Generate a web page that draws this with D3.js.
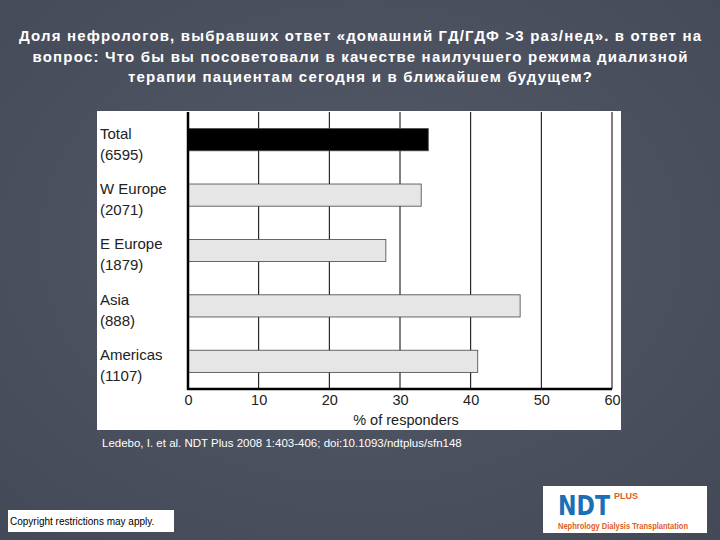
<!DOCTYPE html>
<html><head><meta charset="utf-8">
<script src="https://cdn.jsdelivr.net/npm/d3@7"></script>
<style>
body{margin:0;background:#4b505f;}
svg{display:block;}
</style></head>
<body>
<svg id="chart" width="720" height="540"></svg>
<script>
const regions = ["Total", "W Europe", "E Europe", "Asia", "Americas"]
const counts = ["(6595)", "(2071)", "(1879)", "(888)", "(1107)"]
const values = [34, 33, 28, 47, 41]
const ticks = [0, 10, 20, 30, 40, 50, 60]

const svg = d3.select("#chart")

const bg = svg.append("defs").append("radialGradient").attr("id", "bg").attr("cx", "50%").attr("cy", "45%").attr("r", "75%")
bg.append("stop").attr("offset", "0%").attr("stop-color", "#555a69")
bg.append("stop").attr("offset", "100%").attr("stop-color", "#444957")
svg.append("rect").attr("width", 720).attr("height", 540).attr("fill", "url(#bg)")

const title = [
    "Доля нефрологов, выбравших ответ «домашний ГД/ГДФ >3 раз/нед». в ответ на",
    "вопрос: Что бы вы посоветовали в качестве наилучшего режима диализной",
    "терапии пациентам сегодня и в ближайшем будущем?"
]
const titleLen = [682, 655, 464]
svg.append("g").selectAll("text").data(title).enter().append("text")
    .attr("x", 360).attr("y", (d, i) => 41 + i * 20.5)
    .attr("text-anchor", "middle").attr("fill", "#fff")
    .attr("font-family", "Liberation Sans, Arial, sans-serif").attr("font-size", 15).attr("font-weight", "bold")
    .attr("textLength", (d, i) => titleLen[i]).attr("lengthAdjust", "spacing")
    .text(d => d)

// white panel
svg.append("rect").attr("x", 97).attr("y", 111).attr("width", 524).attr("height", 319).attr("fill", "#fff")

const x = d3.scaleLinear().domain([0, 60]).range([188, 612])
const y = d3.scaleBand().domain(regions).range([112, 389]).paddingInner(0.6).paddingOuter(0.3)

const g = svg.append("g").attr("font-family", "Liberation Sans, Arial, sans-serif")

g.selectAll(".grid").data(ticks.slice(1)).enter().append("line")
    .attr("x1", d => x(d)).attr("x2", d => x(d)).attr("y1", 112).attr("y2", 389)
    .attr("stroke", "#000").attr("stroke-width", 1)

g.selectAll(".bar").data(regions).enter().append("rect")
    .attr("x", x(0)).attr("y", d => y(d))
    .attr("width", (d, i) => x(values[i]) - x(0)).attr("height", y.bandwidth())
    .attr("fill", (d, i) => i === 0 ? "#000" : "#e6e6e6")
    .attr("stroke", "#444").attr("stroke-width", 0.8)

const axis = g.append("g").attr("transform", "translate(0,389)")
    .call(d3.axisBottom(x).tickValues(ticks).tickSize(0).tickPadding(6))
axis.select(".domain").remove()
axis.selectAll("text").attr("font-size", 14.5).attr("fill", "#222").attr("font-family", "Liberation Sans, Arial, sans-serif")
g.append("line").attr("x1", x(0) - 1).attr("x2", x(60)).attr("y1", 389).attr("y2", 389).attr("stroke", "#000").attr("stroke-width", 2.5)
g.append("line").attr("x1", x(0)).attr("x2", x(0)).attr("y1", 112).attr("y2", 390).attr("stroke", "#000").attr("stroke-width", 2.5)

g.append("text").attr("x", 406).attr("y", 425).attr("text-anchor", "middle").attr("font-size", 14.5).attr("fill", "#222").text("% of responders")

const labels = g.selectAll(".lab").data(regions).enter().append("text")
    .attr("x", 100).attr("font-size", 15).attr("fill", "#222")
labels.append("tspan").attr("x", 100).attr("y", d => y(d) + 10).text(d => d)
labels.append("tspan").attr("x", 100).attr("y", (d, i) => y(d) + 31).text((d, i) => counts[i])

svg.append("text").attr("x", 102).attr("y", 447).attr("fill", "#fff")
    .attr("font-family", "Liberation Sans, Arial, sans-serif").attr("font-size", 11.5)
    .text("Ledebo, I. et al. NDT Plus 2008 1:403-406; doi:10.1093/ndtplus/sfn148")

svg.append("rect").attr("x", 8).attr("y", 510).attr("width", 166).attr("height", 22).attr("fill", "#fff")
svg.append("text").attr("x", 10).attr("y", 525).attr("fill", "#000")
    .attr("font-family", "Liberation Sans, Arial, sans-serif").attr("font-size", 10)
    .text("Copyright restrictions may apply.")

// logo
svg.append("rect").attr("x", 543).attr("y", 486).attr("width", 164).attr("height", 47).attr("fill", "#fff")
svg.append("text").attr("x", 558).attr("y", 515).attr("fill", "#1a6fb5")
    .attr("font-family", "DejaVu Sans Condensed, Liberation Sans Narrow, sans-serif").attr("font-weight", "bold").attr("font-size", 26)
    .attr("textLength", 52).attr("lengthAdjust", "spacingAndGlyphs").text("NDT")
svg.append("text").attr("x", 614).attr("y", 499).attr("fill", "#e0601c")
    .attr("font-family", "Liberation Sans Narrow, sans-serif").attr("font-weight", "bold").attr("font-size", 9).text("PLUS")
svg.append("text").attr("x", 558).attr("y", 529).attr("fill", "#e0601c")
    .attr("font-family", "Liberation Sans Narrow, sans-serif").attr("font-weight", "bold").attr("font-size", 8.5)
    .attr("textLength", 130).attr("lengthAdjust", "spacingAndGlyphs").text("Nephrology Dialysis Transplantation")
</script>
</body></html>
